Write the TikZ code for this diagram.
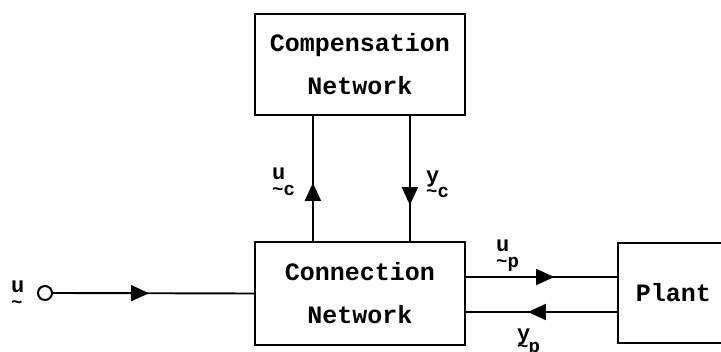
\documentclass[tikz,border=0pt]{standalone}
\usepackage{fontspec}
\setmainfont{Liberation Mono}
\usetikzlibrary{arrows.meta,decorations.markings}
\newcommand{\tsub}[1]{{\fontsize{19}{17}\selectfont\textasciitilde#1}}
\begin{document}
\begin{tikzpicture}[x=1pt,y=-1pt,
  box/.style={draw, line width=2.2pt, inner sep=0pt, align=center,
    font=\bfseries\fontsize{25}{43}\selectfont},
  wire/.style={line width=1.9pt},
  midarrow/.style={postaction={decorate}, decoration={markings,
    mark=at position #1 with {\arrow{Triangle[length=18pt,width=16pt]}}}},
  vlab/.style={inner sep=0pt, anchor=base west, align=left,
    font=\bfseries\fontsize{22}{16}\selectfont}]
\clip (0,0) rectangle (721,352);
\node[box, minimum width=210pt, minimum height=101pt] (comp) at (360,64.5) {Compensation\\Network};
\node[box, minimum width=210pt, minimum height=103pt] (conn) at (360,293.5) {Connection\\Network};
\node[box, minimum width=111pt, minimum height=100pt] (plant) at (673.5,293) {Plant};
\node[draw, circle, line width=2pt, minimum size=14pt, inner sep=0pt] (uin) at (45,293) {};
% input
\draw[wire, midarrow=96pt] (uin.east) -- (conn.west);
% compensation links
\coordinate (ucb) at ([xshift=59pt]conn.north west);
\coordinate (uct) at ([xshift=59pt]comp.south west);
\coordinate (yct) at ([xshift=156pt]comp.south west);
\coordinate (ycb) at ([xshift=156pt]conn.north west);
\draw[wire, midarrow=58pt] (ucb) -- (uct);
\draw[wire, midarrow=89pt] (yct) -- (ycb);
% plant links
\coordinate (upa) at ([yshift=16.5pt]conn.east);
\coordinate (upb) at (upa -| plant.west);
\coordinate (ypa) at ([yshift=-18.5pt]conn.east);
\coordinate (ypb) at (ypa -| plant.west);
\draw[wire, midarrow=88pt] (upa) -- (upb);
\draw[wire, midarrow=89pt] (ypb) -- (ypa);
% labels
\node[vlab] (lu) at (11,309) {u\\\tsub{}};
\node[vlab] (luc) at (272,196) {u\\\tsub{c}};
\node[vlab] (lyc) at (426,198) {y\\[-1pt]\tsub{c}};
\node[vlab] (lup) at (496,268) {u\\\tsub{p}};
\node[vlab] (lyp) at (517,353) {y\\[-4pt]\tsub{p}};
\end{tikzpicture}
\end{document}
